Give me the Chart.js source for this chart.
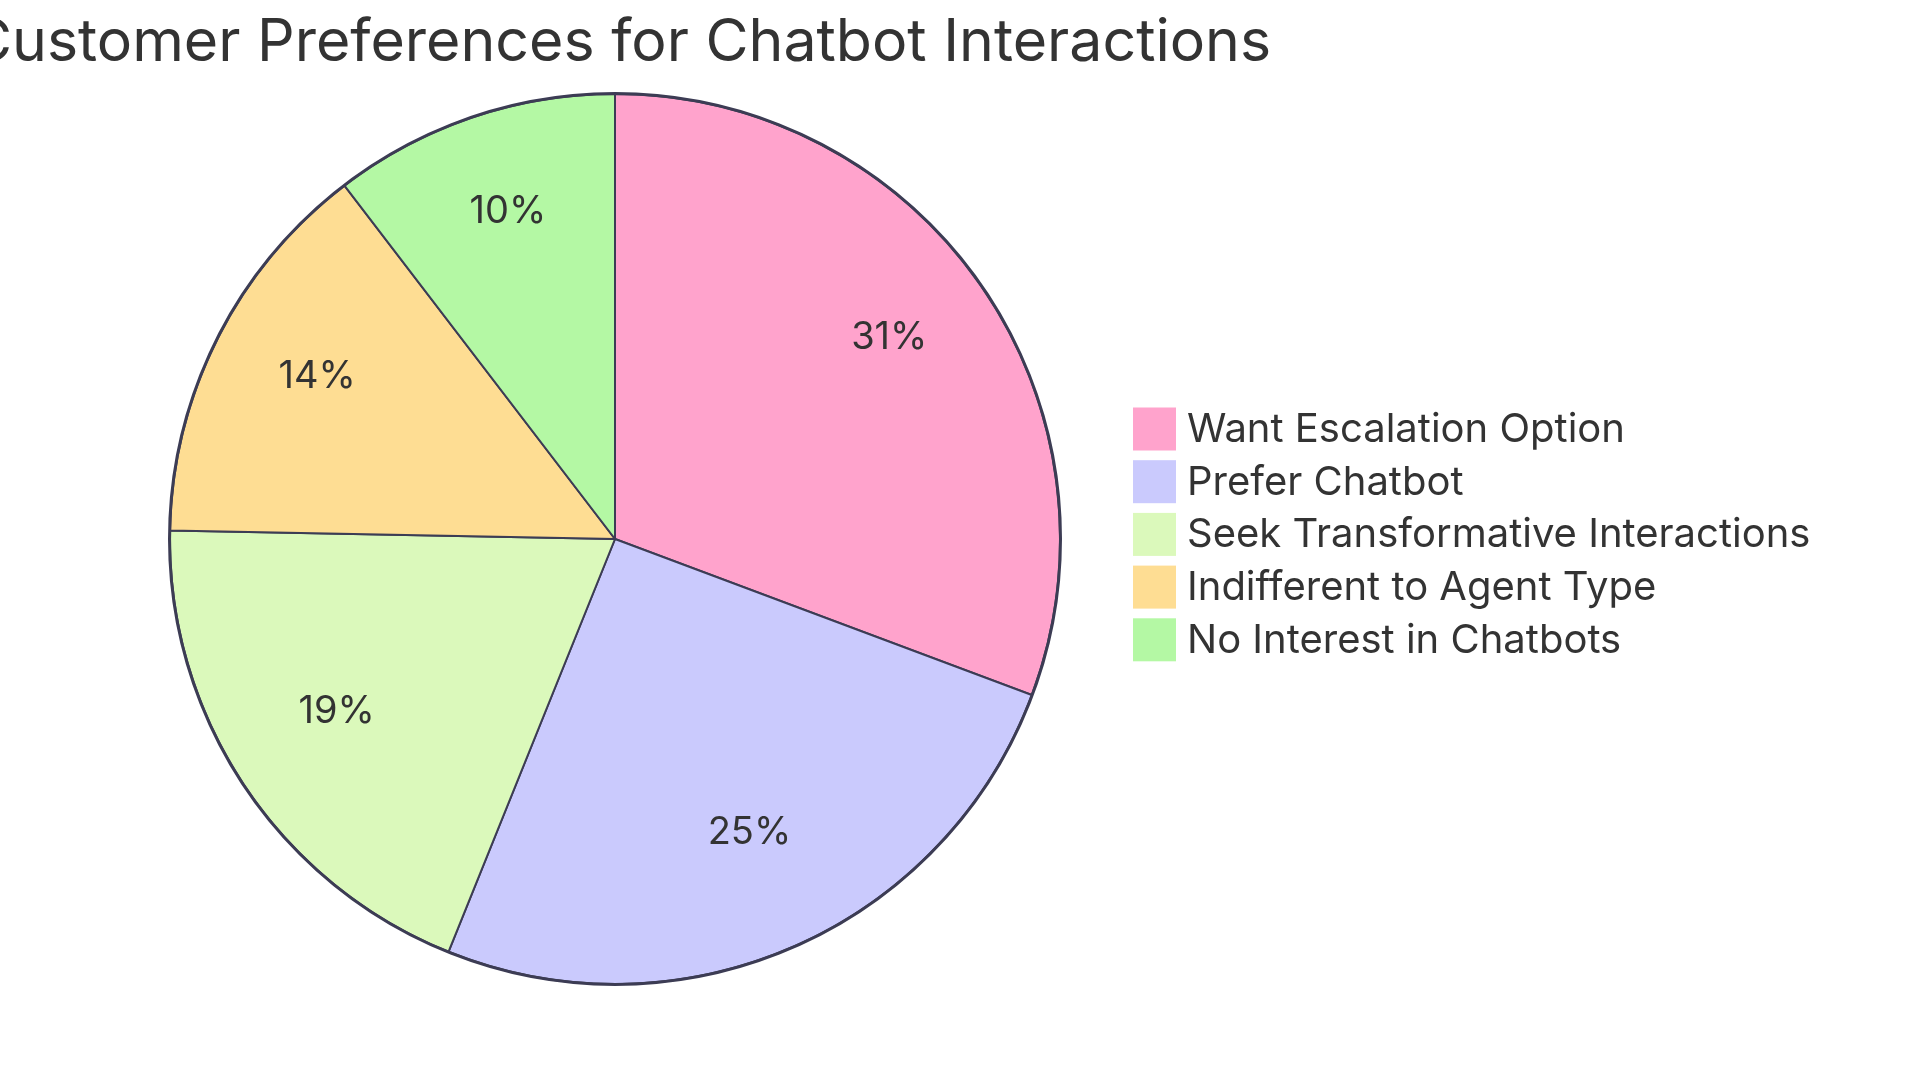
<!DOCTYPE html>
<html><head><meta charset="utf-8">
<script src="https://cdn.jsdelivr.net/npm/chart.js@4.4.1/dist/chart.umd.min.js"></script>
<style>html,body{margin:0;padding:0;background:#fff}#wrap{width:1920px;height:1080px}</style>
</head><body><div id="wrap"><canvas id="c" width="1920" height="1080"></canvas></div>
<script>
const chartTitle = "Customer Preferences for Chatbot Interactions";
const categories = ["Want Escalation Option","Prefer Chatbot","Seek Transformative Interactions","Indifferent to Agent Type","No Interest in Chatbots"];
const values = [30.7, 25.4, 19.2, 14.3, 10.4];
const colors = ["#ffa3cc","#cacafd","#dbf9bb","#fedd93","#b4f8a4"];
const FONT = "Inter, 'Open Sans', sans-serif";
const TEXT = "#333333";
const STROKE = "#3c3c54";

const overlay = {
  id: 'overlay',
  afterDraw(chart){
    const ctx = chart.ctx;
    const meta = chart.getDatasetMeta(0);
    const total = values.reduce((a,b)=>a+b,0);
    ctx.save();
    // outer ring stroke (thicker, as in reference)
    const a0 = meta.data[0];
    ctx.beginPath();
    ctx.arc(a0.x, a0.y, a0.outerRadius + 0.5, 0, Math.PI*2);
    ctx.lineWidth = 3; ctx.strokeStyle = STROKE; ctx.stroke();
    // slice labels
    ctx.fillStyle = TEXT;
    ctx.font = "38px " + FONT;
    ctx.textAlign = 'center'; ctx.textBaseline = 'alphabetic';
    meta.data.forEach((arc,i)=>{
      const a = (arc.startAngle + arc.endAngle)/2;
      const r = arc.outerRadius*0.75;
      const x = arc.x + Math.cos(a)*r, y = arc.y + Math.sin(a)*r;
      ctx.fillText(Math.round(values[i]/total*100) + "%", x, y);
    });
    // title
    ctx.font = "59px " + FONT;
    ctx.textAlign = 'center'; ctx.textBaseline = 'alphabetic';
    ctx.fillText(chartTitle, 620, 61);
    // legend
    const lx = 1133, sq = 43, step = 52.7, y0 = 429;
    ctx.font = "40px " + FONT;
    ctx.textAlign = 'left'; ctx.textBaseline = 'middle';
    categories.forEach((c,i)=>{
      const cy = y0 + i*step;
      ctx.fillStyle = colors[i];
      ctx.fillRect(lx, cy - sq/2, sq, sq);
      ctx.fillStyle = TEXT;
      ctx.fillText(c, 1187, cy + 1);
    });
    ctx.restore();
  }
};

new Chart(document.getElementById('c'), {
  type: 'pie',
  data: { labels: categories, datasets: [{ data: values, backgroundColor: colors, borderColor: STROKE, borderWidth: 2 }] },
  options: {
    responsive: false, animation: false,
    layout: { padding: { left: 169, right: 859, top: 93, bottom: 95 } },
    plugins: { legend: { display: false }, title: { display: false }, tooltip: { enabled: false } }
  },
  plugins: [overlay]
});
</script></body></html>
